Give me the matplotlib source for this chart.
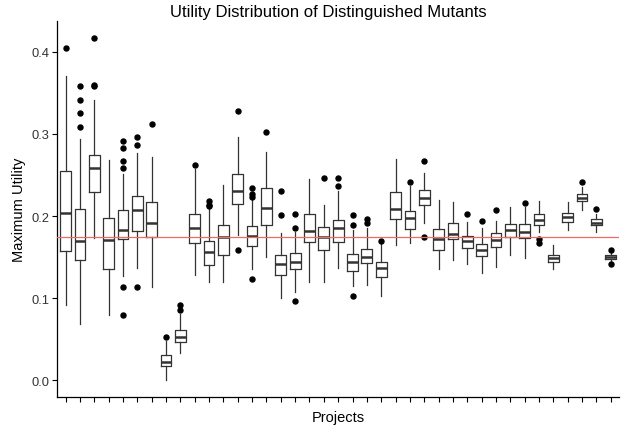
import numpy as np
import matplotlib
matplotlib.use("Agg")
import matplotlib.pyplot as plt

plt.rcParams['font.family'] = ['Liberation Sans', 'DejaVu Sans']

# box statistics, one entry per project
whislo = [0.092, 0.068, 0.173, 0.079, 0.127, 0.137, 0.113, 0.000, 0.033, 0.128,
          0.120, 0.119, 0.177, 0.135, 0.150, 0.100, 0.107, 0.119, 0.119, 0.137,
          0.115, 0.116, 0.102, 0.165, 0.167, 0.192, 0.136, 0.146, 0.142, 0.130,
          0.138, 0.152, 0.149, 0.181, 0.136, 0.183, 0.207, 0.180, 0.145]
q1 = [0.157, 0.146, 0.229, 0.135, 0.172, 0.182, 0.174, 0.017, 0.047, 0.167,
      0.140, 0.153, 0.215, 0.164, 0.189, 0.128, 0.135, 0.168, 0.159, 0.168,
      0.133, 0.143, 0.126, 0.196, 0.184, 0.213, 0.159, 0.172, 0.161, 0.151,
      0.162, 0.174, 0.173, 0.189, 0.144, 0.193, 0.218, 0.189, 0.148]
med = [0.204, 0.170, 0.259, 0.171, 0.183, 0.207, 0.192, 0.022, 0.053, 0.185,
       0.156, 0.174, 0.231, 0.176, 0.210, 0.142, 0.144, 0.182, 0.174, 0.185,
       0.144, 0.150, 0.137, 0.209, 0.198, 0.222, 0.172, 0.178, 0.170, 0.159,
       0.171, 0.183, 0.181, 0.195, 0.149, 0.199, 0.222, 0.192, 0.150]
q3 = [0.255, 0.209, 0.275, 0.198, 0.207, 0.224, 0.217, 0.030, 0.061, 0.203,
      0.169, 0.189, 0.251, 0.188, 0.234, 0.152, 0.155, 0.202, 0.187, 0.195,
      0.154, 0.160, 0.144, 0.229, 0.206, 0.232, 0.184, 0.191, 0.176, 0.166,
      0.179, 0.190, 0.190, 0.202, 0.153, 0.204, 0.227, 0.196, 0.152]
whishi = [0.371, 0.294, 0.342, 0.268, 0.251, 0.277, 0.272, 0.048, 0.080, 0.257,
          0.208, 0.238, 0.296, 0.221, 0.278, 0.179, 0.180, 0.245, 0.213, 0.230,
          0.183, 0.186, 0.168, 0.270, 0.236, 0.252, 0.220, 0.217, 0.193, 0.186,
          0.194, 0.211, 0.211, 0.218, 0.165, 0.217, 0.235, 0.202, 0.155]
fliers = [[0.405], [0.358, 0.341, 0.325, 0.309], [0.417, 0.359, 0.360], [],
          [0.292, 0.283, 0.267, 0.259, 0.114, 0.079], [0.296, 0.286, 0.114], [0.312],
          [0.053], [0.092, 0.085], [0.262], [0.218, 0.214, 0.212], [], [0.328, 0.158],
          [0.234, 0.227, 0.223, 0.123], [0.302], [0.230, 0.201], [0.202, 0.185, 0.096],
          [], [0.246], [0.246, 0.236], [0.201, 0.189, 0.102], [0.196, 0.192], [0.170],
          [], [0.242], [0.267, 0.174], [], [], [0.202], [0.194], [0.207], [], [0.216],
          [0.172, 0.167], [], [], [0.241], [0.208], [0.159, 0.141]]
overall = 0.175

stats = []
for i in range(len(med)):
    stats.append({'whislo': whislo[i], 'q1': q1[i], 'med': med[i], 'q3': q3[i],
                  'whishi': whishi[i], 'fliers': fliers[i]})

fig = plt.figure(figsize=(6.25, 4.31), dpi=100)
ax = fig.add_axes([0.0912, 0.0759, 0.8997, 0.8735])

col = "#333333"
ax.bxp(stats, positions=range(1, len(stats) + 1), widths=0.75, showcaps=False,
       boxprops=dict(color=col, linewidth=0.9),
       whiskerprops=dict(color=col, linewidth=0.9),
       medianprops=dict(color=col, linewidth=1.8),
       flierprops=dict(marker='o', markerfacecolor='black', markeredgecolor='black',
                       markersize=3.6))
ax.axhline(overall, color="#f26a66", linewidth=0.9, zorder=5)

ax.set_xlim(0.4, len(stats) + 0.6)
ax.set_ylim(-0.021, 0.438)
ax.set_yticks([0.0, 0.1, 0.2, 0.3, 0.4])
ax.set_yticklabels(["0.0", "0.1", "0.2", "0.3", "0.4"])
ax.set_xticks(range(1, len(stats) + 1))
ax.set_xticklabels([])
ax.tick_params(axis='both', length=3.5, width=0.8, color="black", labelsize=9.3,
               labelcolor="#333333", pad=2)
for s in ['top', 'right']:
    ax.spines[s].set_visible(False)
for s in ['left', 'bottom']:
    ax.spines[s].set_linewidth(0.9)

ax.set_xlabel("Projects", fontsize=10.5)
ax.xaxis.set_label_coords(0.5, -0.035)
ax.set_ylabel("Maximum Utility", fontsize=10.5)
ax.yaxis.set_label_coords(-0.055, 0.5)
fig.text(0.525, 0.972, "Utility Distribution of Distinguished Mutants", fontsize=12,
         ha='center', va='center')

fig.savefig("out.png", dpi=100)
